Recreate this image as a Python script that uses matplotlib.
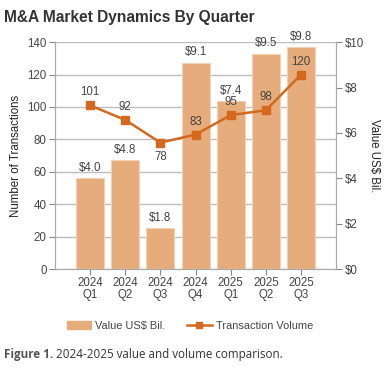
import numpy as np
import matplotlib
matplotlib.use("Agg")
import matplotlib.pyplot as plt
from matplotlib.patches import Patch
from matplotlib.lines import Line2D

# dados do grafico
quarters = ["2024\nQ1", "2024\nQ2", "2024\nQ3", "2024\nQ4", "2025\nQ1", "2025\nQ2", "2025\nQ3"]
value_bil = [4.0, 4.8, 1.8, 9.1, 7.4, 9.5, 9.8]
volume = [101, 92, 78, 83, 95, 98, 120]
value_labels = ["$4.0", "$4.8", "$1.8", "$9.1", "$7.4", "$9.5", "$9.8"]
volume_below = [False, False, True, False, False, False, False]

bar_color = "#E6AC7C"
line_color = "#D2691E"
txt = "#444444"
grid_c = "#BDBDBD"
fs = 8.3

plt.rcParams["font.family"] = ["Liberation Sans", "DejaVu Sans"]

fig = plt.figure(figsize=(3.9, 3.8), dpi=100)
ax = fig.add_axes([0.141, 0.292, 0.721, 0.597])
x = np.arange(len(quarters))

# eixo esquerdo: numero de transacoes (com grade)
ax.set_xlim(-1, len(quarters))
ax.set_ylim(0, 140)
ax.set_yticks(np.arange(0, 141, 20))
ax.grid(axis="y", color=grid_c, linewidth=1)
ax.set_axisbelow(True)
ax.set_xticks(x)
ax.set_xticklabels(quarters, linespacing=0.95)
ax.tick_params(axis="both", labelsize=fs, colors="#888888", labelcolor=txt, length=4, width=0.8, pad=2)
ax.set_ylabel("Number of Transactions", fontsize=fs, color="#222222", labelpad=4)
for s in ["left", "right", "bottom"]:
    ax.spines[s].set_color("#AAAAAA")
ax.spines["top"].set_visible(False)

# eixo direito: valor em bilhoes (barras)
ax2 = ax.twinx()
ax2.set_ylim(0, 10)
ax2.set_yticks(np.arange(0, 11, 2))
ax2.set_yticklabels(["$%d" % v for v in np.arange(0, 11, 2)])
ax2.tick_params(axis="y", labelsize=fs, colors="#888888", labelcolor=txt, length=4, width=0.8, pad=2)
ax2.set_ylabel("Value US$ Bil.", fontsize=fs, color="#222222", rotation=270, labelpad=12)
for s in ["left", "right", "bottom"]:
    ax2.spines[s].set_color("#AAAAAA")
ax2.spines["top"].set_visible(False)
ax2.bar(x, value_bil, width=0.8, color=bar_color, edgecolor="#F3D2B6", linewidth=0.8)
for xi, v, lab in zip(x, value_bil, value_labels):
    ax2.annotate(lab, (xi, v), xytext=(0, 3), textcoords="offset points",
                 ha="center", va="bottom", fontsize=fs, color=txt)

# linha de volume num terceiro eixo (acima das barras)
ax3 = ax.twinx()
ax3.set_ylim(0, 140)
ax3.axis("off")
ax3.plot(x, volume, color=line_color, linewidth=1.8, marker="s", ms=6)
for xi, v, below in zip(x, volume, volume_below):
    off = -6 if below else 5
    ax3.annotate(str(v), (xi, v), xytext=(0, off), textcoords="offset points",
                 ha="center", va="top" if below else "bottom", fontsize=fs, color=txt)

# titulo
fig.text(0.01, 0.955, "M&A Market Dynamics By Quarter", fontsize=11.2, fontweight="bold",
         color="#333333", va="center")

# legenda
handles = [Patch(facecolor=bar_color, edgecolor=bar_color),
           Line2D([0], [0], color=line_color, linewidth=1.8, marker="s", ms=5)]
fig.legend(handles, ["Value US$ Bil.", "Transaction Volume"], loc="center",
           bbox_to_anchor=(0.487, 0.142), ncol=2, frameon=False, fontsize=7.9,
           handlelength=2.2, columnspacing=2.0, handletextpad=0.4, labelcolor=txt)

# legenda da figura
t1 = fig.text(0.01, 0.066, "Figure 1.", fontsize=8.4, fontweight="bold", color="#555555",
              family=["Open Sans", "DejaVu Sans"], va="center")
fig.canvas.draw()
bb = t1.get_window_extent()
fig.text((bb.x1 + 3) / fig.bbox.width, 0.066, "2024-2025 value and volume comparison.",
         fontsize=8.4, color="#333333", family=["Open Sans", "DejaVu Sans"], va="center")

fig.savefig("out.png", dpi=100)
